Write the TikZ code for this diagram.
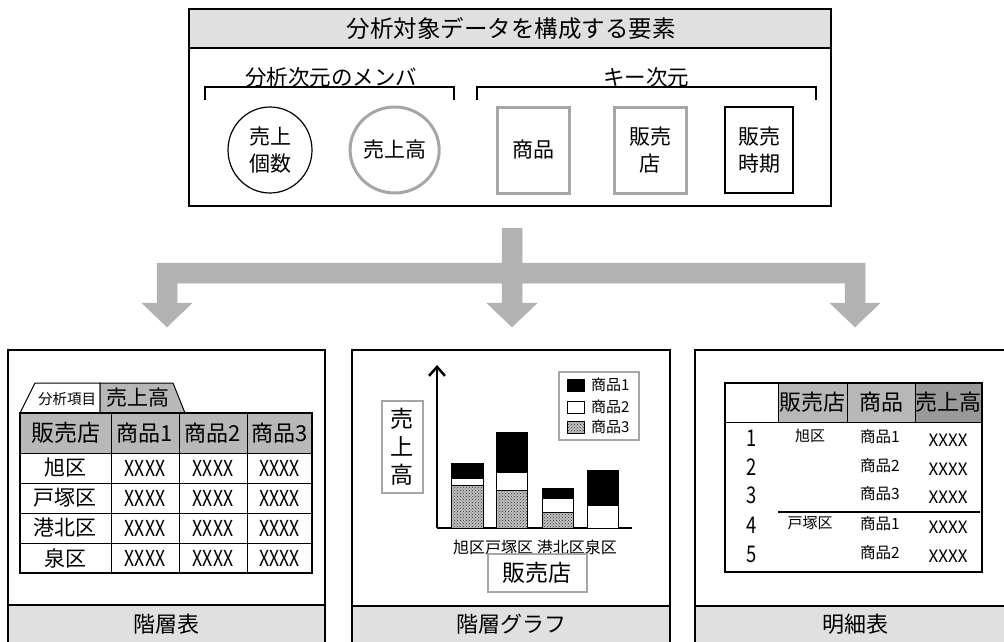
\documentclass[tikz,border=0pt]{standalone}
\usepackage{fontspec}
\setmainfont{Noto Sans CJK JP}
\newfontfamily\narrowfont[FakeStretch=0.8]{Noto Sans CJK JP}
\usepackage{tikz}
\usetikzlibrary{shapes.geometric, arrows.meta, positioning, patterns}
\newcommand{\jfs}[1]{\fontsize{#1}{#1}\selectfont}
\tikzstyle{frame} = [draw=black, line width=1.5pt]
\tikzstyle{band} = [draw=black, line width=1.5pt, fill=black!12]
\tikzstyle{member} = [ellipse, draw=black, line width=1.2pt, minimum width=84pt, minimum height=86pt, align=center, inner sep=0pt, font=\fontsize{21}{27}\selectfont]
\tikzstyle{keybox} = [rectangle, draw=black, line width=1.2pt, minimum width=72pt, minimum height=86pt, align=center, inner sep=0pt, font=\fontsize{21}{27}\selectfont]
\tikzstyle{grayline} = [draw=black!35, line width=3pt]
\tikzstyle{headcell} = [rectangle, draw=black, line width=1pt, fill=black!28, minimum height=40pt, inner sep=0pt, font=\jfs{22}]
\tikzstyle{bodycell} = [rectangle, draw=black, line width=1pt, minimum height=30pt, inner sep=0pt, font=\narrowfont\jfs{22}]
\tikzstyle{bar} = [draw=black, line width=1pt]
\tikzstyle{dotted3} = [preaction={fill=black!25}, pattern=crosshatch dots, pattern color=black!80]
\tikzstyle{bigarrow} = [fill=black!30, draw=black!30, line width=0.5pt]

\begin{document}
\begin{tikzpicture}[x=1pt, y=-1pt]
\useasboundingbox (0,0) rectangle (1004,642);
\clip (0,0) rectangle (1004,642);

% Elements of the analysed data (top)
\draw[frame] (189,9) rectangle (831,206);
\draw[band] (189,9) rectangle (831,48);
\node (title) at (511,29) {\jfs{23.5}分析対象データを構成する要素};

\node (memhead) at (331,77) {\jfs{21.5}分析次元のメンバ};
\node (keyhead) at (646,77) {\jfs{21.5}キー次元};
\draw[line width=1.2pt] (205,100) -- (205,87) -- (454,87) -- (454,100);
\draw[line width=1.2pt] (477,100) -- (477,87) -- (816,87) -- (816,100);

\node (count) [member] at (270,150) {売上\\個数};
\node (sales) [member, grayline, right=36pt of count] {売上高};
\node (item) [keybox, grayline] at (533,150) {商品};
\node (shop) [keybox, grayline, right=42pt of item] {販売\\店};
\node (period) [keybox, minimum width=68pt] at (759,150) {販売\\時期};

% Branching arrow
\coordinate (stem) at (512,228);
\draw[bigarrow] (502,228) -- (522,228) -- (522,263) -- (865,263) -- (865,303)
  -- (880,303) -- (855,327) -- (830,303) -- (845,303) -- (845,283)
  -- (522,283) -- (522,303) -- (537,303) -- (512,327) -- (487,303)
  -- (502,303) -- (502,283) -- (177,283) -- (177,303) -- (192,303)
  -- (167,327) -- (142,303) -- (157,303) -- (157,263) -- (502,263) -- cycle;

% Panel 1: hierarchy table
\draw[frame] (8,350) rectangle (325,660);
\draw[band] (8,605) rectangle (325,660);
\node (cap1) at (166,624) {\jfs{22}階層表};
\draw[line width=1pt] (20,413) -- (35,383) -- (100,383) -- (100,413);
\draw[line width=1pt, fill=black!28] (100,413) -- (100,383) -- (173,383) -- (185,413);
\node (tabitem) at (67,399) {\jfs{14.5}分析項目};
\node (tabsales) at (138,398) {\jfs{21}売上高};
\node (h0) [headcell, minimum width=91pt, font=\jfs{23}] at (65.5,433) {販売店};
\node (h1) [headcell, minimum width=68pt] at (145,433) {商品1};
\node (h2) [headcell, minimum width=68pt] at (213,433) {商品2};
\node (h3) [headcell, minimum width=65pt] at (279.5,433) {商品3};
\foreach \shopname/\y [count=\i] in {旭区/468, 戸塚区/498, 港北区/528, 泉区/558} {
  \node (r\i-0) [bodycell, minimum width=91pt, font=\jfs{21}] at (65.5,\y) {\shopname};
  \node (r\i-1) [bodycell, minimum width=68pt] at (145,\y) {XXXX};
  \node (r\i-2) [bodycell, minimum width=68pt] at (213,\y) {XXXX};
  \node (r\i-3) [bodycell, minimum width=65pt] at (279.5,\y) {XXXX};
}
\draw[line width=1.5pt] (20,413) rectangle (312,573);

% Panel 2: hierarchy graph
\draw[frame] (352,350) rectangle (670,660);
\draw[band] (352,606) rectangle (670,660);
\node (cap2) at (511,624) {\jfs{22}階層グラフ};
\coordinate (origin) at (437,528);
\coordinate (ytop) at (437,365);
\coordinate (xend) at (632,528);
\draw[line width=2.5pt, -{Straight Barb[length=9pt,width=16pt]}] (origin) -- (ytop);
\draw[line width=2.5pt] (origin) -- (xend);
\node (ylabel) [rectangle, grayline, line width=2pt, minimum width=41pt, minimum height=92pt, align=center, inner sep=0pt,
  font=\fontsize{23}{28}\selectfont] at (402,447) {売\\上\\高};
\node (legend) [rectangle, grayline, line width=2pt, minimum width=80pt, minimum height=68pt] at (599,406) {};
\draw[bar, fill=black] (567,379) rectangle (584,391);
\draw[bar, fill=white] (567,401) rectangle (584,413);
\draw[bar, dotted3] (567,421) rectangle (584,433);
\node (leg1) [anchor=west, inner sep=0pt] at (591,385) {\jfs{15}商品1};
\node (leg2) [anchor=west, inner sep=0pt] at (591,407) {\jfs{15}商品2};
\node (leg3) [anchor=west, inner sep=0pt] at (591,427) {\jfs{15}商品3};
% bars
\draw[bar, dotted3] (451,485) rectangle (483,528);
\draw[bar, fill=white] (451,478) rectangle (483,485);
\draw[bar, fill=black] (451,463) rectangle (483,478);
\draw[bar, dotted3] (496,490) rectangle (527,528);
\draw[bar, fill=white] (496,472) rectangle (527,490);
\draw[bar, fill=black] (496,432) rectangle (527,472);
\draw[bar, dotted3] (542,512) rectangle (573,528);
\draw[bar, fill=white] (542,498) rectangle (573,512);
\draw[bar, fill=black] (542,488) rectangle (573,498);
\draw[bar, fill=white] (587,505) rectangle (618,528);
\draw[bar, fill=black] (587,470) rectangle (618,505);
\node (xticks) at (535,547) {\jfs{16}旭区戸塚区 港北区泉区};
\node (xlabel) [rectangle, grayline, line width=2pt, minimum width=99pt, minimum height=38pt] at (537,573) {\jfs{23}販売店};

% Panel 3: detail table
\draw[frame] (695,350) rectangle (1015,660);
\draw[band] (695,606) rectangle (1015,660);
\node (cap3) at (855,624) {\jfs{22}明細表};
\node (d0) [headcell, fill=white, minimum width=53pt, minimum height=39pt] at (751.5,402.5) {};
\node (d1) [headcell, minimum width=69pt, minimum height=39pt] at (812.5,402.5) {販売店};
\node (d2) [headcell, minimum width=68pt, minimum height=39pt] at (881,402.5) {商品};
\node (d3) [headcell, fill=black!40, minimum width=67pt, minimum height=39pt] at (948.5,402.5) {売上高};
\draw[line width=1.5pt] (725,383) rectangle (982,572);
\foreach \num/\shopname/\itemname/\y in {1/旭区/商品1/438, 2//商品2/467, 3//商品3/495, 4/戸塚区/商品1/525, 5//商品2/554} {
  \node (n\num) at (752,\y) {\narrowfont\jfs{23}\num};
  \node (s\num) at (810,\y-2) {\jfs{15}\shopname};
  \node (i\num) at (880,\y-1) {\jfs{15.5}\itemname};
  \node (v\num) at (948,\y+2) {\jfs{17}XXXX};
}
\draw[line width=1.2pt] (778,512) -- (980,512);

\end{tikzpicture}
\end{document}
